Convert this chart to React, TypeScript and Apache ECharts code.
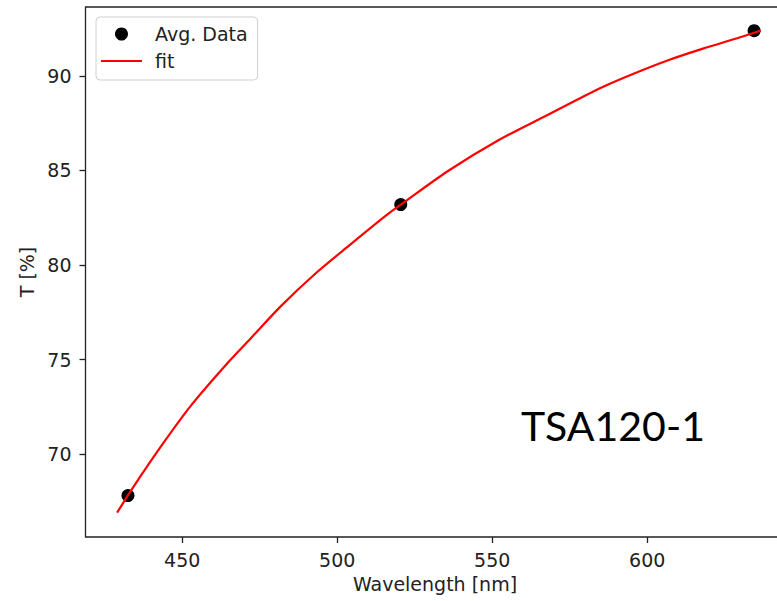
import React, { useEffect, useRef } from "react";
import * as echarts from "echarts";

// Averaged measurement points (wavelength nm, transmission %)
const dataWavelengths = [432.5, 520.5, 634.5];
const dataTransmission = [67.8, 83.2, 92.4];

// Fit curve
const fitWavelengths = [429, 434, 444, 453, 464, 472, 482, 493, 504, 516, 521, 536, 552, 568, 578, 586, 596, 607, 618, 629, 636.6];
const fitTransmission = [66.9, 68.2, 70.6, 72.6, 74.7, 76.1, 77.85, 79.55, 81.05, 82.65, 83.25, 85.0, 86.6, 87.95, 88.8, 89.45, 90.15, 90.85, 91.45, 92.0, 92.4];

const xTicks = [450, 500, 550, 600];
const yTicks = [70, 75, 80, 85, 90];

const FONT = "DejaVu Sans";
const TXT = "#222";

export default function App() {
  const ref = useRef<HTMLDivElement>(null);
  useEffect(() => {
    if (!ref.current) return;
    const chart = echarts.init(ref.current, undefined, { renderer: "svg" });
    chart.setOption({
      animation: false,
      backgroundColor: "#fff",
      grid: {
        left: 85.5,
        top: 7,
        right: 0.5,
        bottom: 64,
        show: true,
        borderColor: "#222",
        borderWidth: 1.3,
        backgroundColor: "transparent",
      },
      legend: {
        left: 96,
        top: 17,
        orient: "vertical",
        data: [
          { name: "Avg. Data", icon: "circle" },
          { name: "fit", icon: "path://M0,0 H40 V2 H0 Z" },
        ],
        itemWidth: 41,
        itemHeight: 13,
        itemGap: 8,
        padding: [7.5, 10, 9.5, 5],
        borderColor: "#d0d0d0",
        borderWidth: 1,
        borderRadius: 4,
        backgroundColor: "#fff",
        textStyle: {
          fontFamily: FONT,
          fontSize: 19,
          color: TXT,
          padding: [0, 0, 0, 8],
        },
      },
      xAxis: {
        type: "value",
        min: 418.8,
        max: 644.3,
        name: "Wavelength [nm]",
        nameLocation: "middle",
        nameGap: 37,
        nameTextStyle: { fontFamily: FONT, fontSize: 19, color: TXT },
        splitLine: { show: false },
        axisLine: { show: false },
        axisTick: {
          show: true,
          length: 6,
          customValues: xTicks,
          lineStyle: { color: "#222", width: 1.3 },
        },
        axisLabel: {
          customValues: xTicks,
          margin: 13,
          fontFamily: FONT,
          fontSize: 19,
          color: TXT,
        },
      },
      yAxis: {
        type: "value",
        min: 65.61,
        max: 93.65,
        name: "T [%]",
        nameLocation: "middle",
        nameGap: 48,
        nameTextStyle: { fontFamily: FONT, fontSize: 19, color: TXT },
        splitLine: { show: false },
        axisLine: { show: false },
        axisTick: {
          show: true,
          length: 6,
          customValues: yTicks,
          lineStyle: { color: "#222", width: 1.3 },
        },
        axisLabel: {
          customValues: yTicks,
          margin: 14,
          fontFamily: FONT,
          fontSize: 19,
          color: TXT,
        },
      },
      series: [
        {
          name: "Avg. Data",
          type: "scatter",
          symbol: "circle",
          symbolSize: 13,
          itemStyle: { color: "#000", opacity: 1 },
          data: dataWavelengths.map((x, i) => [x, dataTransmission[i]]),
          z: 2,
        },
        {
          name: "fit",
          type: "line",
          symbol: "none",
          smooth: 0.3,
          lineStyle: { color: "#ff0000", width: 2.2 },
          itemStyle: { color: "#ff0000" },
          data: fitWavelengths.map((x, i) => [x, fitTransmission[i]]),
          z: 3,
        },
      ],
      graphic: [
        {
          type: "text",
          left: 521,
          top: 405,
          style: {
            text: "TSA120-1",
            fontFamily: "Lato",
            fontSize: 41,
            fill: "#000",
          },
        },
      ],
    });
    return () => chart.dispose();
  }, []);
  return (
    <div
      style={{
        position: "absolute",
        left: 0,
        top: 0,
        width: 777,
        height: 601,
        overflow: "hidden",
        background: "#fff",
      }}
    >
      <div ref={ref} style={{ width: 785, height: 601 }} />
    </div>
  );
}
